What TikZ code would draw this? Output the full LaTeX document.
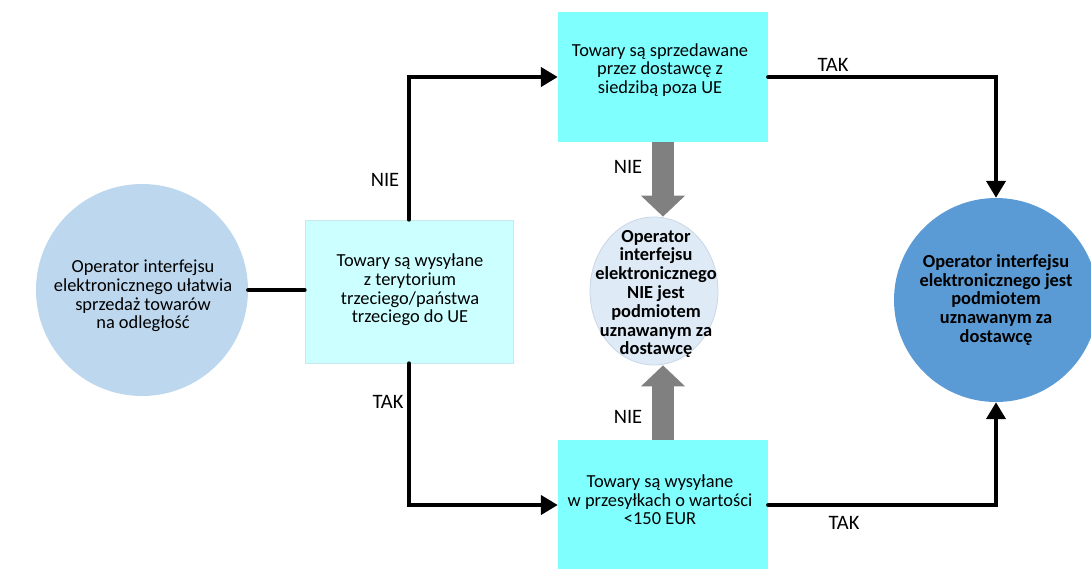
\documentclass[tikz,border=0pt]{standalone}
\usepackage{fontspec}
\setmainfont{Carlito}
\usetikzlibrary{arrows.meta,shapes.geometric}
\definecolor{lightcirc}{RGB}{189,215,238}
\definecolor{midcirc}{RGB}{222,235,247}
\definecolor{midcircedge}{RGB}{200,214,230}
\definecolor{darkcirc}{RGB}{91,155,213}
\definecolor{paleCyan}{RGB}{204,255,255}
\definecolor{brightCyan}{RGB}{128,255,255}
\definecolor{boxedge}{RGB}{200,232,235}
\definecolor{greyfill}{RGB}{128,128,128}
\tikzset{
  bodytxt/.style={align=center, inner sep=0pt, font=\fontsize{18.4}{18.6}\selectfont},
  boldtxt/.style={bodytxt, font=\fontsize{18.4}{18.8}\selectfont\bfseries},
  lbl/.style={inner sep=0pt, font=\fontsize{20.5}{22}\selectfont},
  boxshape/.style={rectangle, inner sep=0pt},
  conn/.style={line width=4.2pt, black, line cap=round},
  connarrow/.style={conn, -{Triangle[width=19pt,length=17pt]}},
  greyarr/.style={line width=22pt, greyfill, -{Triangle[width=43pt,length=21pt]}}
}
\begin{document}
\begin{tikzpicture}[x=1pt,y=-1pt]
\path[use as bounding box] (0,0) rectangle (1091,568);

% shapes
\node[circle, fill=lightcirc, minimum size=212pt, inner sep=0pt] (c1) at (142,290) {};
\node[boxshape, fill=paleCyan, draw=boxedge, line width=0.8pt, minimum width=208pt, minimum height=143pt] (b1) at (409,291.5) {};
\node[boxshape, fill=brightCyan, minimum width=210pt, minimum height=130pt] (b2) at (663,77) {};
\node[boxshape, fill=brightCyan, minimum width=210pt, minimum height=130pt] (b3) at (663,505) {};
\node[ellipse, fill=midcirc, draw=midcircedge, line width=0.8pt, minimum width=128pt, minimum height=148pt, inner sep=0pt] (c2) at (654,291) {};
\node[circle, fill=darkcirc, minimum size=204pt, inner sep=0pt] (c3) at (996,300) {};

% texts
\node[bodytxt] (c1t) at (143,296) {Operator interfejsu\\elektronicznego ułatwia\\sprzedaż towarów\\na odległość};
\node[bodytxt] (b1t) at (410,290) {Towary są wysyłane\\z terytorium\\trzeciego/państwa\\trzeciego do UE};
\node[bodytxt] (b2t) at (660,70) {Towary są sprzedawane\\przez dostawcę z\\siedzibą poza UE};
\node[bodytxt] (b3t) at (660,500) {Towary są wysyłane\\w przesyłkach o wartości\\<150 EUR};
\node[boldtxt] (c2t) at (656,294) {Operator\\interfejsu\\elektronicznego\\NIE jest\\podmiotem\\uznawanym za\\dostawcę};
\node[boldtxt] (c3t) at (996,300) {Operator interfejsu\\elektronicznego jest\\podmiotem\\uznawanym za\\dostawcę};

% black connectors
\draw[conn] (c1.east) -- (c1.east -| b1.west);
\draw[connarrow] (b1.north) |- (b2.west);
\draw[connarrow] (b1.south) |- (b3.west);
\draw[connarrow] (b2.east) -| (c3.north);
\draw[connarrow] (b3.east) -| (c3.south);

% grey block arrows
\coordinate (g1s) at (b2.south);
\coordinate (g2s) at (b3.north);
\draw[greyarr] (g1s) -- (g1s |- c2.north);
\draw[greyarr] (g2s) -- (g2s |- c2.south);

% labels
\node[lbl] (l1) at (385,180) {NIE};
\node[lbl] (l2) at (388,402) {TAK};
\node[lbl] (l3) at (833,65) {TAK};
\node[lbl] (l4) at (844,523) {TAK};
\node[lbl] (l5) at (628,167) {NIE};
\node[lbl] (l6) at (628,417) {NIE};
\end{tikzpicture}
\end{document}
